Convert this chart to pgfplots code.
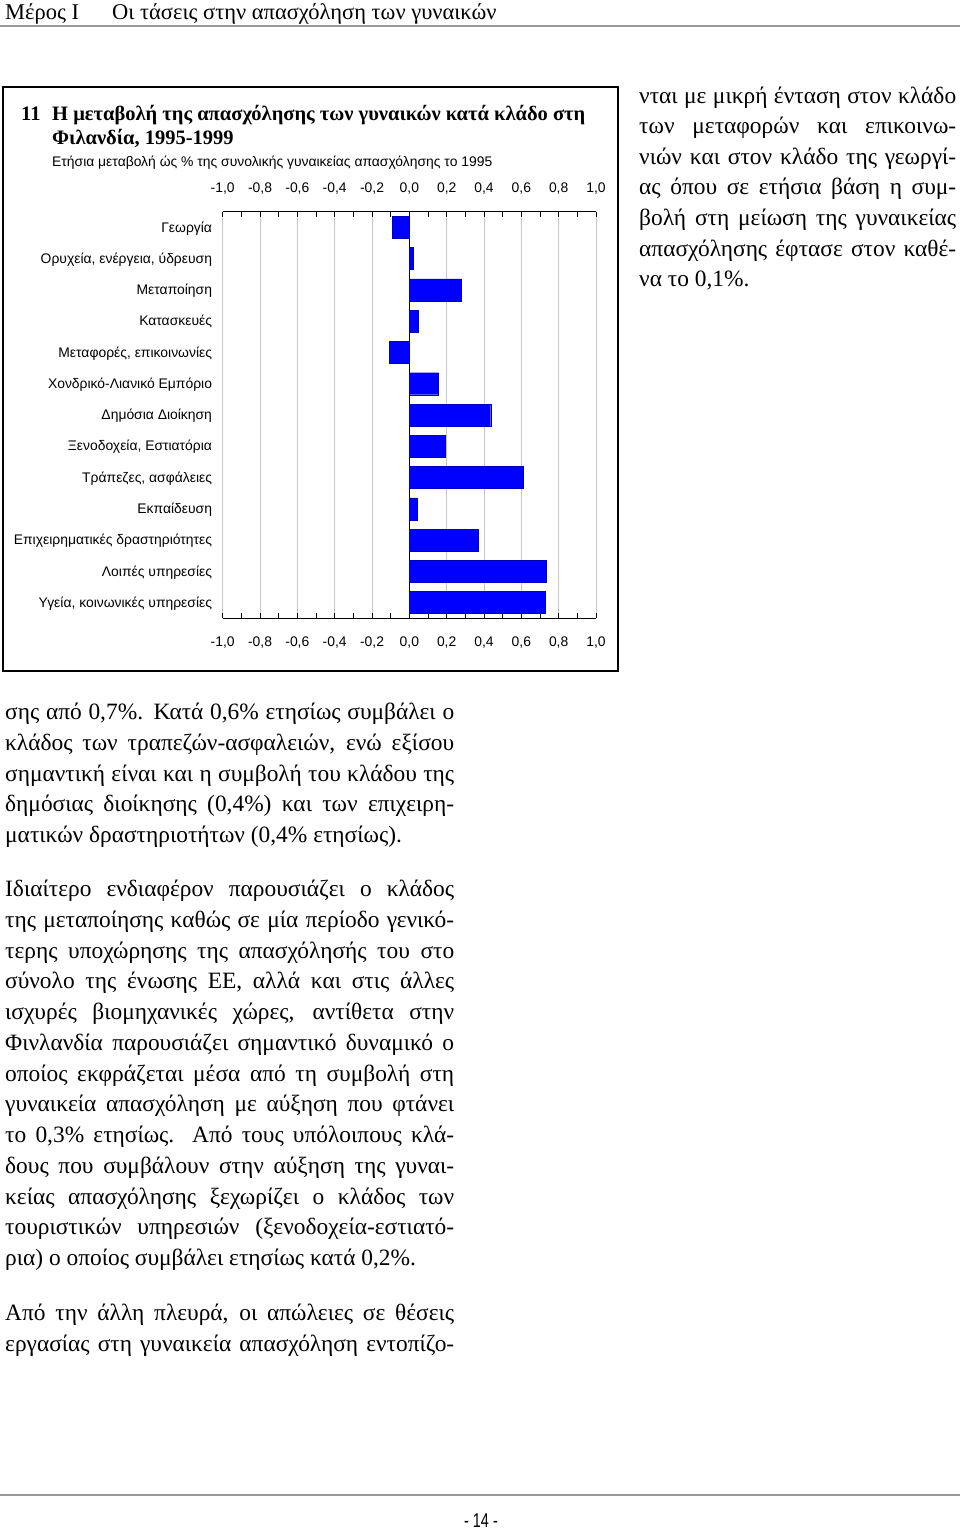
\documentclass[border=0pt]{standalone}
\usepackage{fontspec}
\setmainfont{Liberation Serif}
\newfontfamily\sans{Liberation Sans}
\usepackage{graphicx}
\usepackage{pgfplots}
\pgfplotsset{compat=1.18}
\usepackage{pgfplotstable}

\pgfplotstableread{
idx val
0 -0.09
1 0.02
2 0.28
3 0.045
4 -0.107
5 0.157
6 0.436
7 0.191
8 0.611
9 0.043
10 0.37
11 0.733
12 0.729
}\datatable

\newcommand{\bodyfont}{\fontsize{23.4}{30.75}\selectfont}
\newcommand{\jline}[4]{\node[anchor=base west,inner sep=0pt] at (#1,#2) {\bodyfont\makebox[#3pt][s]{#4}};}
\newcommand{\lline}[3]{\node[anchor=base west,inner sep=0pt] at (#1,#2) {\bodyfont #3};}

\begin{document}
\begin{tikzpicture}[x=1pt,y=-1pt]
\useasboundingbox[fill=white] (0,0) rectangle (960,1530);

% header
\node[anchor=base west,inner sep=0pt] at (5,20) {\fontsize{22.5}{22.5}\selectfont Μέρος I};
\node[anchor=base west,inner sep=0pt] at (112,20) {\fontsize{22.5}{22.5}\selectfont Οι τάσεις στην απασχόληση των γυναικών};
\draw[gray!80, line width=2pt] (0,26.5) -- (960,26.5);

% chart frame
\draw[black, line width=2pt] (2.5,87.5) rectangle (618,670.5);
\node[anchor=base west,inner sep=0pt] at (21,121) {\fontsize{20.5}{20.5}\selectfont\bfseries 11};
\node[anchor=base west,inner sep=0pt] at (52,121) {\fontsize{20.5}{20.5}\selectfont\bfseries Η μεταβολή της απασχόλησης των γυναικών κατά κλάδο στη};
\node[anchor=base west,inner sep=0pt] at (52,145) {\fontsize{20.5}{20.5}\selectfont\bfseries Φιλανδία, 1995-1999};
\node[anchor=base west,inner sep=0pt] at (52,167) {\sans\fontsize{13.9}{13.9}\selectfont Ετήσια μεταβολή ώς \% της συνολικής γυναικείας απασχόλησης το 1995};

\begin{axis}[
  at={(222.7pt,-618.3pt)}, anchor=south west,
  scale only axis, width=373.3pt, height=406.6pt,
  xmin=-1, xmax=1, ymin=-0.5, ymax=12.5, y dir=reverse,
  xbar, bar width=22pt,
  separate axis lines,
  x axis line style={black, line width=1.5pt},
  y axis line style={draw=none},
  xtick={-1,-0.8,-0.6,-0.4,-0.2,0,0.2,0.4,0.6,0.8,1},
  xticklabels={{-1,0},{-0,8},{-0,6},{-0,4},{-0,2},{0,0},{0,2},{0,4},{0,6},{0,8},{1,0}},
  minor x tick num=1,
  tick align=inside, xtick pos=both,
  major tick length=5pt, minor tick length=5pt,
  xtick style={black, line width=1pt},
  xminorgrids=false, xmajorgrids=true,
  major grid style={gray!45, line width=0.9pt},
  extra x ticks={0}, extra x tick labels={},
  extra x tick style={grid=major, major grid style={black, line width=1.2pt}},
  ytick={0,1,2,3,4,5,6,7,8,9,10,11,12},
  yticklabels={Γεωργία,{Ορυχεία, ενέργεια, ύδρευση},Μεταποίηση,Κατασκευές,{Μεταφορές, επικοινωνίες},Χονδρικό-Λιανικό Εμπόριο,Δημόσια Διοίκηση,{Ξενοδοχεία, Εστιατόρια},{Τράπεζες, ασφάλειες},Εκπαίδευση,Επιχειρηματικές δραστηριότητες,Λοιπές υπηρεσίες,{Υγεία, κοινωνικές υπηρεσίες}},
  ytick style={draw=none},
  ticklabel style={font=\sans\fontsize{13.9}{13.9}\selectfont},
  yticklabel style={anchor=base east, inner sep=0pt, xshift=-10.5pt, yshift=-4.7pt},
  xticklabel style={anchor=base, inner sep=0pt, yshift=-27.7pt},
]
\addplot[fill=blue, draw=blue!75!black, line width=0.4pt] table[x=val, y=idx]{\datatable};
\end{axis}

\begin{axis}[
  at={(222.7pt,-618.3pt)}, anchor=south west,
  scale only axis, width=373.3pt, height=406.6pt,
  xmin=-1, xmax=1, ymin=-0.5, ymax=12.5,
  axis line style={draw=none},
  xtick={-1,-0.8,-0.6,-0.4,-0.2,0,0.2,0.4,0.6,0.8,1},
  xticklabels={{-1,0},{-0,8},{-0,6},{-0,4},{-0,2},{0,0},{0,2},{0,4},{0,6},{0,8},{1,0}},
  xticklabel pos=upper,
  xtick style={draw=none}, ytick=\empty,
  ticklabel style={font=\sans\fontsize{13.9}{13.9}\selectfont},
  xticklabel style={anchor=base, inner sep=0pt, yshift=18.7pt},
]
\end{axis}

% right column
\jline{639}{103.3}{317}{νται με μικρή ένταση στον κλάδο}
\jline{639}{133.9}{317}{των μεταφορών και επικοινω-}
\jline{639}{164.4}{317}{νιών και στον κλάδο της γεωργί-}
\jline{639}{195.0}{317}{ας όπου σε ετήσια βάση η συμ-}
\jline{639}{225.5}{317}{βολή στη μείωση της γυναικείας}
\jline{639}{256.1}{317}{απασχόλησης έφτασε στον καθέ-}
\lline{639}{286.7}{να το 0,1\%.}

% paragraph 1
\jline{5}{719.5}{449}{σης από 0,7\%. Κατά 0,6\% ετησίως συμβάλει ο}
\jline{5}{750.25}{449}{κλάδος των  τραπεζών-ασφαλειών, ενώ εξίσου}
\jline{5}{781}{449}{σημαντική είναι και η συμβολή του κλάδου της}
\jline{5}{811.75}{449}{δημόσιας διοίκησης (0,4\%) και των επιχειρη-}
\lline{5}{842.5}{ματικών δραστηριοτήτων (0,4\% ετησίως).}

% paragraph 2
\jline{5}{896.5}{449}{Ιδιαίτερο ενδιαφέρον παρουσιάζει ο κλάδος}
\jline{5}{927.25}{449}{της μεταποίησης καθώς σε μία περίοδο γενικό-}
\jline{5}{958}{449}{τερης υποχώρησης της απασχόλησής του στο}
\jline{5}{988.75}{449}{σύνολο της ένωσης ΕΕ, αλλά και στις άλλες}
\jline{5}{1019.5}{449}{ισχυρές βιομηχανικές χώρες, αντίθετα στην}
\jline{5}{1050.25}{449}{Φινλανδία παρουσιάζει σημαντικό δυναμικό ο}
\jline{5}{1081}{449}{οποίος εκφράζεται μέσα από τη συμβολή στη}
\jline{5}{1111.75}{449}{γυναικεία απασχόληση με αύξηση που φτάνει}
\jline{5}{1142.5}{449}{το 0,3\% ετησίως. Από τους υπόλοιπους κλά-}
\jline{5}{1173.25}{449}{δους που συμβάλουν στην αύξηση της γυναι-}
\jline{5}{1204}{449}{κείας απασχόλησης ξεχωρίζει ο κλάδος των}
\jline{5}{1234.75}{449}{τουριστικών υπηρεσιών (ξενοδοχεία-εστιατό-}
\lline{5}{1265.5}{ρια) ο οποίος συμβάλει ετησίως κατά 0,2\%.}

% paragraph 3
\jline{5}{1320.5}{449}{Από την άλλη πλευρά, οι απώλειες σε θέσεις}
\jline{5}{1351.25}{449}{εργασίας στη γυναικεία απασχόληση εντοπίζο-}

% footer
\draw[gray!80, line width=2pt] (0,1494.5) -- (960,1494.5);
\node[inner sep=0pt] at (481,1521) {\sans\fontsize{20}{20}\selectfont\scalebox{0.72}[1]{- 14 -}};
\end{tikzpicture}
\end{document}
